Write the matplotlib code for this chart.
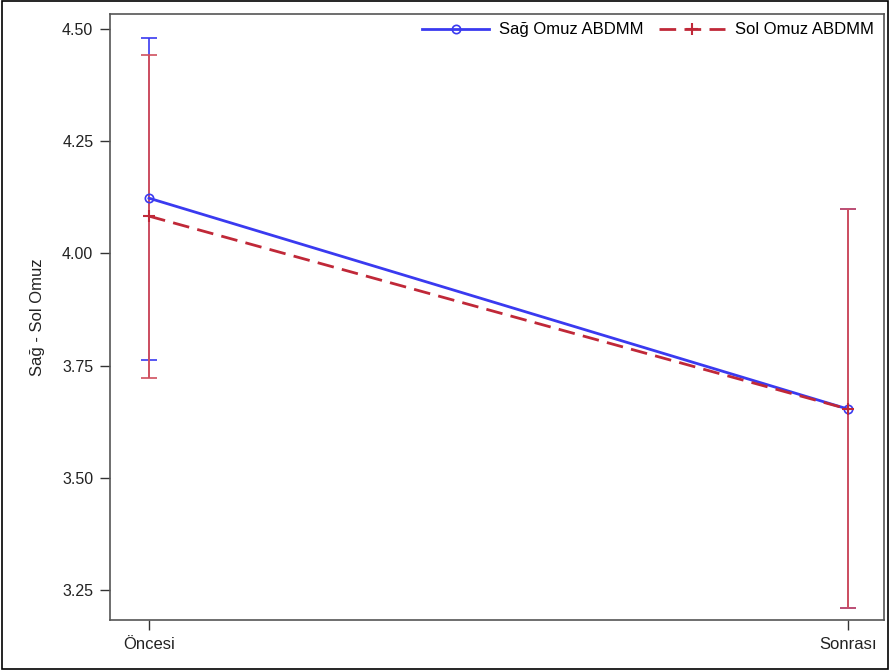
import matplotlib.pyplot as plt
from matplotlib.patches import Rectangle

plt.rcParams['font.family'] = ['Liberation Sans', 'DejaVu Sans']

categories = ['Öncesi', 'Sonrası']
sag_mean = [4.123, 3.653]
sag_low = [3.762, 3.210]
sag_high = [4.480, 4.099]
sol_mean = [4.083, 3.653]
sol_low = [3.722, 3.210]
sol_high = [4.442, 4.099]

blue = '#3a3af0'
red = '#c02838'
red_err = '#d0505f'

fig = plt.figure(figsize=(8.9, 6.7), dpi=100)
ax = fig.add_axes([0.1236, 0.0746, 0.8697, 0.9045])
x = list(range(len(categories)))

sag_err = [[m - l for m, l in zip(sag_mean, sag_low)], [h - m for m, h in zip(sag_mean, sag_high)]]
sol_err = [[m - l for m, l in zip(sol_mean, sol_low)], [h - m for m, h in zip(sol_mean, sol_high)]]

ax.errorbar(x, sag_mean, yerr=sag_err, fmt='none', ecolor=blue, elinewidth=1.2, capsize=6, capthick=1.2)
ax.errorbar(x, sol_mean, yerr=sol_err, fmt='none', ecolor=red_err, elinewidth=1.4, capsize=6, capthick=1.2)
ax.plot(x, sag_mean, color=blue, lw=2, marker='o', ms=6, mfc='none', mec=blue, mew=1.2, label='Sağ Omuz ABDMM')
ax.plot(x, sol_mean, color=red, lw=2, ls=(0, (6, 3)), marker='+', ms=9, mew=1.5, label='Sol Omuz ABDMM')

ax.set_xlim(-0.0558, 1.0515)
ax.set_ylim(3.183, 4.5334)
ax.set_xticks(x)
ax.set_xticklabels(categories, fontsize=12)
ax.set_yticks([3.25, 3.50, 3.75, 4.00, 4.25, 4.50])
ax.set_yticklabels(['3.25', '3.50', '3.75', '4.00', '4.25', '4.50'], fontsize=11.5)
ax.tick_params(direction='out', length=7, width=1, pad=5, colors='#333333', labelcolor='#222222')
ax.set_ylabel('Sağ - Sol Omuz', fontsize=12, labelpad=12, color='#222222')
for s in ax.spines.values():
    s.set_color('#555555')
    s.set_linewidth(1.2)

ax.legend(loc='upper right', ncol=2, frameon=False, fontsize=12, handlelength=4,
          handletextpad=0.6, columnspacing=0.9, borderaxespad=0.1,
          bbox_to_anchor=(0.998, 1.0))

fig.patches.append(Rectangle((0.002, 0.002), 0.996, 0.996, transform=fig.transFigure,
                             fill=False, edgecolor='black', lw=1.2))

fig.savefig('out.png', dpi=100)
